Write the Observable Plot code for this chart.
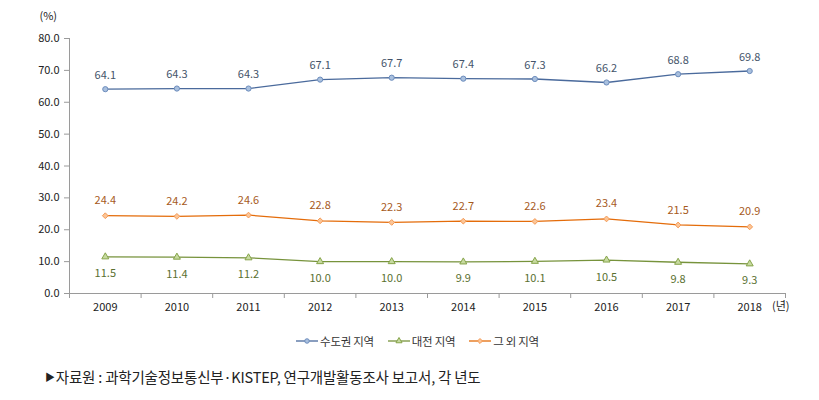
<!DOCTYPE html>
<html><head><meta charset="utf-8">
<script src="https://cdn.jsdelivr.net/npm/d3@7"></script>
<script src="https://cdn.jsdelivr.net/npm/@observablehq/plot@0.6"></script>
<style>
body{margin:0;background:#fff;font-family:"Noto Sans CJK KR","Noto Sans",sans-serif;}
#legend{display:flex;justify-content:center;gap:14px;margin-top:13px;height:16px;align-items:center;font-size:11.5px;color:#333;padding-left:16px;letter-spacing:-0.3px}
#legend span{display:flex;align-items:center;gap:2px}
#caption{margin-top:18px;margin-left:45px;font-size:14.5px;color:#222;line-height:20px;letter-spacing:-0.2px}
#caption .tri{font-size:10px;vertical-align:2px;margin-right:1px}
</style></head>
<body>
<div id="chart"></div>
<div id="legend"></div>
<div id="caption"></div>
<script>
const years = [2009,2010,2011,2012,2013,2014,2015,2016,2017,2018];
const capital = [64.1,64.3,64.3,67.1,67.7,67.4,67.3,66.2,68.8,69.8];
const daejeon = [11.5,11.4,11.2,10.0,10.0,9.9,10.1,10.5,9.8,9.3];
const others = [24.4,24.2,24.6,22.8,22.3,22.7,22.6,23.4,21.5,20.9];
const seriesNames = ["수도권 지역","대전 지역","그 외 지역"];
const yTicks = [0,10,20,30,40,50,60,70,80];
const yUnit = "(%)";
const xUnit = "(년)";
const sourceMark = "▶";
const source = "자료원 : 과학기술정보통신부·KISTEP, 연구개발활동조사 보고서, 각 년도";

const styles = [
  {line:"#4a6a9c", fill:"#a9c0de", stroke:"#6d8dbd", text:"#44546a", symbol:"circle", dy:-14, r:2.6},
  {line:"#77933c", fill:"#c7daa0", stroke:"#86a44a", text:"#5a7030", symbol:"triangle", dy:17, r:2.6},
  {line:"#e46c0a", fill:"#fbc597", stroke:"#f59a55", text:"#a65a1c", symbol:"diamond2", dy:-15, r:2.6}
];
const values = [capital, daejeon, others];
const data = values.flatMap((arr,si)=>arr.map((v,i)=>({year:years[i], value:v, s:si})));
const bounds = years.map(y=>y-0.5).concat([years[years.length-1]+0.5]);
const font = `"Noto Sans CJK KR","Noto Sans",sans-serif`;

const marks = [
  Plot.ruleY([0], {stroke:"#9a9a9a"}),
  Plot.ruleX([bounds[0]], {stroke:"#9a9a9a"}),
  Plot.axisY({ticks:yTicks, tickFormat:d=>d.toFixed(1), tickSize:5, tickPadding:5, stroke:"#9a9a9a", color:"#222", fontSize:11, label:null}),
  Plot.axisX({ticks:years, tickFormat:d=>String(d), tickSize:0, tickPadding:10, color:"#222", fontSize:11, label:null}),
  Plot.axisX({ticks:bounds, tickFormat:()=>"", tickSize:5, stroke:"#9a9a9a", label:null}),
  Plot.text([yUnit], {frameAnchor:"top-left", dx:-30, dy:-26, fontSize:11, fill:"#222"}),
  Plot.text([xUnit], {frameAnchor:"bottom-right", dx:4, dy:16, fontSize:11, fill:"#222"})
];
styles.forEach((st,si)=>{
  const d = data.filter(r=>r.s===si);
  marks.push(Plot.line(d, {x:"year", y:"value", stroke:st.line, strokeWidth:1.3}));
  marks.push(Plot.dot(d, {x:"year", y:"value", symbol:st.symbol, r:st.r, fill:st.fill, stroke:st.stroke, strokeWidth:1}));
  marks.push(Plot.text(d, {x:"year", y:"value", text:r=>r.value.toFixed(1), dy:st.dy, fill:st.text, fontSize:11}));
});

const chart = Plot.plot({
  width:819, height:320,
  marginLeft:69, marginRight:34, marginTop:38, marginBottom:27,
  style:{fontFamily:font, fontSize:"11px", background:"#fff"},
  x:{type:"linear", domain:[bounds[0], bounds[bounds.length-1]]},
  y:{domain:[0,80]},
  marks
});
document.getElementById("chart").append(chart);

const legend = document.getElementById("legend");
styles.forEach((st,si)=>{
  const span = document.createElement("span");
  const sym = d3.symbol(st.symbol==="circle"?d3.symbolCircle:st.symbol==="triangle"?d3.symbolTriangle:d3.symbolDiamond2, 16)();
  span.innerHTML = `<svg width="22" height="10"><line x1="0" x2="22" y1="5" y2="5" stroke="${st.line}" stroke-width="1.3"/><path d="${sym}" transform="translate(11,5)" fill="${st.fill}" stroke="${st.stroke}"/></svg><span>${seriesNames[si]}</span>`;
  legend.append(span);
});
const cap = document.getElementById("caption");
const tri = document.createElement("span"); tri.className="tri"; tri.textContent = sourceMark;
cap.append(tri, document.createTextNode(source));
</script>
</body></html>
